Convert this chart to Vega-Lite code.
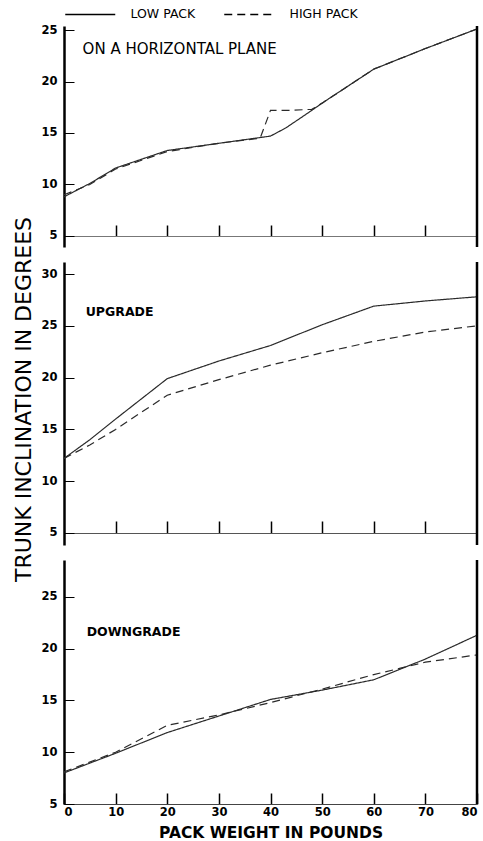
{
  "$schema": "https://vega.github.io/schema/vega-lite/v6.json",
  "padding": {"left": 12, "top": 8, "right": 0, "bottom": 0},
  "autosize": {"type": "pad"},
  "background": "white",
  "config": {
    "view": {"stroke": null},
    "font": "DejaVu Sans",
    "axis": {
      "grid": false,
      "labelFont": "DejaVu Sans",
      "labelFontWeight": "bold",
      "labelFontSize": 11.5,
      "labelColor": "black",
      "domainColor": "black",
      "tickColor": "black",
      "titleColor": "black"
    }
  },
  "datasets": {
    "curves": [
      {"panel": "horizontal", "pack": "LOW PACK", "weight": 0, "deg": 8.8},
      {"panel": "horizontal", "pack": "LOW PACK", "weight": 5, "deg": 10.1},
      {"panel": "horizontal", "pack": "LOW PACK", "weight": 10, "deg": 11.6},
      {"panel": "horizontal", "pack": "LOW PACK", "weight": 20, "deg": 13.3},
      {"panel": "horizontal", "pack": "LOW PACK", "weight": 30, "deg": 14.0},
      {"panel": "horizontal", "pack": "LOW PACK", "weight": 40, "deg": 14.7},
      {"panel": "horizontal", "pack": "LOW PACK", "weight": 43, "deg": 15.5},
      {"panel": "horizontal", "pack": "LOW PACK", "weight": 48, "deg": 17.2},
      {"panel": "horizontal", "pack": "LOW PACK", "weight": 50, "deg": 17.9},
      {"panel": "horizontal", "pack": "LOW PACK", "weight": 60, "deg": 21.2},
      {"panel": "horizontal", "pack": "LOW PACK", "weight": 70, "deg": 23.2},
      {"panel": "horizontal", "pack": "LOW PACK", "weight": 80, "deg": 25.1},
      {"panel": "horizontal", "pack": "HIGH PACK", "weight": 0, "deg": 9.0},
      {"panel": "horizontal", "pack": "HIGH PACK", "weight": 5, "deg": 10.0},
      {"panel": "horizontal", "pack": "HIGH PACK", "weight": 10, "deg": 11.5},
      {"panel": "horizontal", "pack": "HIGH PACK", "weight": 20, "deg": 13.2},
      {"panel": "horizontal", "pack": "HIGH PACK", "weight": 30, "deg": 14.0},
      {"panel": "horizontal", "pack": "HIGH PACK", "weight": 38, "deg": 14.5},
      {"panel": "horizontal", "pack": "HIGH PACK", "weight": 40, "deg": 17.2},
      {"panel": "horizontal", "pack": "HIGH PACK", "weight": 44, "deg": 17.2},
      {"panel": "horizontal", "pack": "HIGH PACK", "weight": 48, "deg": 17.3},
      {"panel": "horizontal", "pack": "HIGH PACK", "weight": 50, "deg": 17.9},
      {"panel": "horizontal", "pack": "HIGH PACK", "weight": 60, "deg": 21.2},
      {"panel": "horizontal", "pack": "HIGH PACK", "weight": 70, "deg": 23.2},
      {"panel": "horizontal", "pack": "HIGH PACK", "weight": 80, "deg": 25.1},
      {"panel": "upgrade", "pack": "LOW PACK", "weight": 0, "deg": 12.2},
      {"panel": "upgrade", "pack": "LOW PACK", "weight": 5, "deg": 14.0},
      {"panel": "upgrade", "pack": "LOW PACK", "weight": 10, "deg": 16.0},
      {"panel": "upgrade", "pack": "LOW PACK", "weight": 20, "deg": 19.9},
      {"panel": "upgrade", "pack": "LOW PACK", "weight": 30, "deg": 21.6},
      {"panel": "upgrade", "pack": "LOW PACK", "weight": 40, "deg": 23.1},
      {"panel": "upgrade", "pack": "LOW PACK", "weight": 50, "deg": 25.1},
      {"panel": "upgrade", "pack": "LOW PACK", "weight": 60, "deg": 26.9},
      {"panel": "upgrade", "pack": "LOW PACK", "weight": 70, "deg": 27.4},
      {"panel": "upgrade", "pack": "LOW PACK", "weight": 80, "deg": 27.8},
      {"panel": "upgrade", "pack": "HIGH PACK", "weight": 0, "deg": 12.2},
      {"panel": "upgrade", "pack": "HIGH PACK", "weight": 5, "deg": 13.5},
      {"panel": "upgrade", "pack": "HIGH PACK", "weight": 10, "deg": 15.0},
      {"panel": "upgrade", "pack": "HIGH PACK", "weight": 20, "deg": 18.3},
      {"panel": "upgrade", "pack": "HIGH PACK", "weight": 30, "deg": 19.8},
      {"panel": "upgrade", "pack": "HIGH PACK", "weight": 40, "deg": 21.2},
      {"panel": "upgrade", "pack": "HIGH PACK", "weight": 50, "deg": 22.4},
      {"panel": "upgrade", "pack": "HIGH PACK", "weight": 60, "deg": 23.5},
      {"panel": "upgrade", "pack": "HIGH PACK", "weight": 70, "deg": 24.4},
      {"panel": "upgrade", "pack": "HIGH PACK", "weight": 80, "deg": 25.0},
      {"panel": "downgrade", "pack": "LOW PACK", "weight": 0, "deg": 8.0},
      {"panel": "downgrade", "pack": "LOW PACK", "weight": 10, "deg": 9.9},
      {"panel": "downgrade", "pack": "LOW PACK", "weight": 20, "deg": 11.9},
      {"panel": "downgrade", "pack": "LOW PACK", "weight": 30, "deg": 13.5},
      {"panel": "downgrade", "pack": "LOW PACK", "weight": 40, "deg": 15.1},
      {"panel": "downgrade", "pack": "LOW PACK", "weight": 50, "deg": 16.0},
      {"panel": "downgrade", "pack": "LOW PACK", "weight": 60, "deg": 17.0},
      {"panel": "downgrade", "pack": "LOW PACK", "weight": 65, "deg": 18.0},
      {"panel": "downgrade", "pack": "LOW PACK", "weight": 70, "deg": 19.0},
      {"panel": "downgrade", "pack": "LOW PACK", "weight": 80, "deg": 21.3},
      {"panel": "downgrade", "pack": "HIGH PACK", "weight": 0, "deg": 8.1},
      {"panel": "downgrade", "pack": "HIGH PACK", "weight": 10, "deg": 10.0},
      {"panel": "downgrade", "pack": "HIGH PACK", "weight": 20, "deg": 12.6},
      {"panel": "downgrade", "pack": "HIGH PACK", "weight": 30, "deg": 13.6},
      {"panel": "downgrade", "pack": "HIGH PACK", "weight": 40, "deg": 14.8},
      {"panel": "downgrade", "pack": "HIGH PACK", "weight": 50, "deg": 16.1},
      {"panel": "downgrade", "pack": "HIGH PACK", "weight": 60, "deg": 17.5},
      {"panel": "downgrade", "pack": "HIGH PACK", "weight": 65, "deg": 18.1},
      {"panel": "downgrade", "pack": "HIGH PACK", "weight": 70, "deg": 18.7},
      {"panel": "downgrade", "pack": "HIGH PACK", "weight": 80, "deg": 19.4}
    ]
  },
  "bounds": "flush",
  "spacing": 15,
  "vconcat": [
    {
      "width": 413,
      "height": 221,
      "layer": [
        {
          "data": {"name": "curves"},
          "transform": [{"filter": "datum.panel == 'horizontal'"}],
          "mark": {"type": "line", "color": "#2a2a2a", "strokeWidth": 1.2},
          "encoding": {
            "x": {"field": "weight", "type": "quantitative", "scale": {"domain": [0, 80], "nice": false},
                  "axis": {"values": [10, 20, 30, 40, 50, 60, 70], "labels": false, "title": null, "tickSize": -11, "tickWidth": 1.5, "offset": -11, "domainColor": "#777"}},
            "y": {"field": "deg", "type": "quantitative", "scale": {"domain": [3.93, 25.39], "nice": false, "zero": false},
                  "axis": {"values": [5, 10, 15, 20, 25], "title": null, "tickSize": -10, "labelPadding": 17, "domainWidth": 2.5, "tickWidth": 1}},
            "strokeDash": {"field": "pack", "type": "nominal",
                           "scale": {"domain": ["LOW PACK", "HIGH PACK"], "range": [[1, 0], [8, 5]]},
                           "legend": {"orient": "top", "direction": "horizontal", "title": null, "symbolType": "M-1,0H9", "symbolSize": 100, "symbolStrokeWidth": 1.5, "symbolStrokeColor": "black", "symbolFillColor": "transparent", "labelFont": "DejaVu Sans", "labelFontSize": 12.5, "labelColor": "black", "labelOffset": 54, "columnPadding": 25, "offset": 3, "padding": 0}}
          }
        },
        {
          "data": {"values": [{}]},
          "mark": {"type": "rule", "color": "black", "strokeWidth": 2.5},
          "encoding": {"x": {"datum": 80}}
        },
        {
          "data": {"values": [{}]},
          "mark": {"type": "text", "align": "left", "baseline": "middle", "font": "DejaVu Sans", "fontSize": 15, "color": "black"},
          "encoding": {"x": {"datum": 3.6}, "y": {"datum": 23.2}, "text": {"value": "ON A HORIZONTAL PLANE"}}
        }
      ]
    },
    {
      "width": 413,
      "height": 283,
      "layer": [
        {
          "data": {"name": "curves"},
          "transform": [{"filter": "datum.panel == 'upgrade'"}],
          "mark": {"type": "line", "color": "#2a2a2a", "strokeWidth": 1.2},
          "encoding": {
            "x": {"field": "weight", "type": "quantitative", "scale": {"domain": [0, 80], "nice": false},
                  "axis": {"values": [10, 20, 30, 40, 50, 60, 70], "labels": false, "title": null, "tickSize": -12, "tickWidth": 1.5, "offset": -12, "domainColor": "#555"}},
            "y": {"field": "deg", "type": "quantitative", "scale": {"domain": [3.84, 31.16], "nice": false, "zero": false},
                  "axis": {"values": [5, 10, 15, 20, 25, 30], "title": "TRUNK INCLINATION IN DEGREES", "titleFont": "DejaVu Sans", "titleFontSize": 22, "titleFontWeight": "normal", "titlePadding": 5, "titleY": 137, "tickSize": -10, "labelPadding": 17, "domainWidth": 2.5, "tickWidth": 1}},
            "strokeDash": {"field": "pack", "type": "nominal",
                           "scale": {"domain": ["LOW PACK", "HIGH PACK"], "range": [[1, 0], [8, 5]]}, "legend": null}
          }
        },
        {
          "data": {"values": [{}]},
          "mark": {"type": "rule", "color": "black", "strokeWidth": 2.5},
          "encoding": {"x": {"datum": 80}}
        },
        {
          "data": {"values": [{}]},
          "mark": {"type": "text", "align": "left", "baseline": "middle", "font": "DejaVu Sans", "fontWeight": "bold", "fontSize": 12.5, "color": "black"},
          "encoding": {"x": {"datum": 4.2}, "y": {"datum": 26.3}, "text": {"value": "UPGRADE"}}
        }
      ]
    },
    {
      "width": 413,
      "height": 244,
      "layer": [
        {
          "data": {"name": "curves"},
          "transform": [{"filter": "datum.panel == 'downgrade'"}],
          "mark": {"type": "line", "color": "#2a2a2a", "strokeWidth": 1.2},
          "encoding": {
            "x": {"field": "weight", "type": "quantitative", "scale": {"domain": [0, 80], "nice": false},
                  "axis": {"values": [0, 10, 20, 30, 40, 50, 60, 70, 80], "title": "PACK WEIGHT IN POUNDS", "titleFont": "DejaVu Sans", "titleFontSize": 15.5, "titleFontWeight": "bold", "titlePadding": 8, "tickSize": -11, "tickWidth": 1.5, "labelPadding": 13, "domainColor": "#444"}},
            "y": {"field": "deg", "type": "quantitative", "scale": {"domain": [5, 28.57], "nice": false, "zero": false},
                  "axis": {"values": [5, 10, 15, 20, 25], "title": null, "tickSize": -10, "labelPadding": 17, "domainWidth": 2.5, "tickWidth": 1}},
            "strokeDash": {"field": "pack", "type": "nominal",
                           "scale": {"domain": ["LOW PACK", "HIGH PACK"], "range": [[1, 0], [8, 5]]}, "legend": null}
          }
        },
        {
          "data": {"values": [{}]},
          "mark": {"type": "rule", "color": "black", "strokeWidth": 2.5},
          "encoding": {"x": {"datum": 80}}
        },
        {
          "data": {"values": [{}]},
          "mark": {"type": "text", "align": "left", "baseline": "middle", "font": "DejaVu Sans", "fontWeight": "bold", "fontSize": 12.5, "color": "black"},
          "encoding": {"x": {"datum": 4.4}, "y": {"datum": 21.6}, "text": {"value": "DOWNGRADE"}}
        }
      ]
    }
  ]
}
